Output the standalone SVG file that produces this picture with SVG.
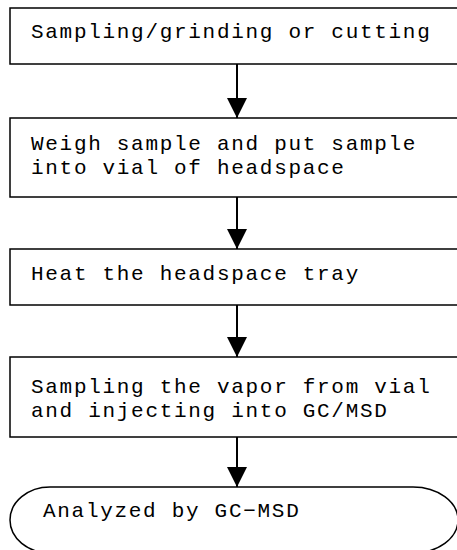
<svg xmlns="http://www.w3.org/2000/svg" width="457" height="550" viewBox="0 0 457 550">
<style>
.box{fill:#fff;stroke:#000;stroke-width:1.5}
.t{font-family:"Liberation Mono","Courier New",monospace;font-size:21px;letter-spacing:1.7px;fill:#000}
.c{stroke:#000;stroke-width:2;fill:none}
</style>
<defs>
<marker id="ah" markerUnits="userSpaceOnUse" markerWidth="22" markerHeight="22" refX="20" refY="10" orient="auto">
<path d="M0,0 L20,10 L0,20 Z" fill="#000"/>
</marker>
</defs>
<rect width="457" height="550" fill="#fff"/>
<g id="n1"><rect class="box" x="10" y="8" width="452" height="56"/><text class="t" x="31" y="38">Sampling/grinding or cutting</text></g>
<g id="n2"><rect class="box" x="10" y="118" width="452" height="79"/><text class="t" x="31" y="150">Weigh sample and put sample</text><text class="t" x="31" y="174">into vial of headspace</text></g>
<g id="n3"><rect class="box" x="10" y="249" width="452" height="56"/><text class="t" x="31" y="280">Heat the headspace tray</text></g>
<g id="n4"><rect class="box" x="10" y="357" width="452" height="80"/><text class="t" x="31" y="393">Sampling the vapor from vial</text><text class="t" x="31" y="417">and injecting into GC/MSD</text></g>
<g id="n5"><path class="box" d="M50,487 H413 A45,33 0 0 1 413,553 H50 A40,33 0 0 1 50,487 Z"/><text class="t" x="43" y="517">Analyzed by GC−MSD</text></g>
<g id="connectors">
<line class="c" x1="237" y1="64" x2="237" y2="118" marker-end="url(#ah)"/>
<line class="c" x1="237" y1="197" x2="237" y2="249" marker-end="url(#ah)"/>
<line class="c" x1="237" y1="305" x2="237" y2="357" marker-end="url(#ah)"/>
<line class="c" x1="237" y1="437" x2="237" y2="487" marker-end="url(#ah)"/>
</g>
</svg>
